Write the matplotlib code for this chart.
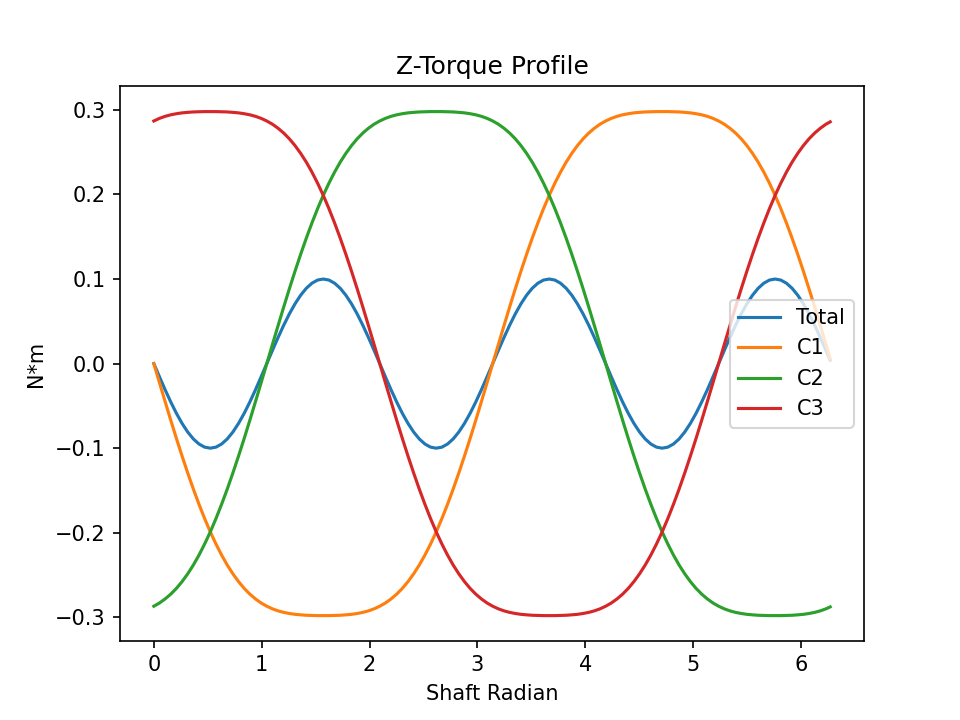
import numpy as np
import matplotlib
matplotlib.use("Agg")
import matplotlib.pyplot as plt

# shaft angle samples, 3 degree steps from 0, last sample just short of 2pi
shaft = np.append(np.linspace(0, 2 * np.pi, 121)[:-1], 6.27)

total = [0.0, -0.0156, -0.0309, -0.0454, -0.0588, -0.0707, -0.0809, -0.0891, -0.0951, -0.0988,
         -0.1, -0.0988, -0.0951, -0.0891, -0.0809, -0.0707, -0.0588, -0.0454, -0.0309, -0.0156,
         0.0, 0.0156, 0.0309, 0.0454, 0.0588, 0.0707, 0.0809, 0.0891, 0.0951, 0.0988,
         0.1, 0.0988, 0.0951, 0.0891, 0.0809, 0.0707, 0.0588, 0.0454, 0.0309, 0.0156,
         0.0, -0.0156, -0.0309, -0.0454, -0.0588, -0.0707, -0.0809, -0.0891, -0.0951, -0.0988,
         -0.1, -0.0988, -0.0951, -0.0891, -0.0809, -0.0707, -0.0588, -0.0454, -0.0309, -0.0156,
         0.0, 0.0156, 0.0309, 0.0454, 0.0588, 0.0707, 0.0809, 0.0891, 0.0951, 0.0988,
         0.1, 0.0988, 0.0951, 0.0891, 0.0809, 0.0707, 0.0588, 0.0454, 0.0309, 0.0156,
         0.0, -0.0156, -0.0309, -0.0454, -0.0588, -0.0707, -0.0809, -0.0891, -0.0951, -0.0988,
         -0.1, -0.0988, -0.0951, -0.0891, -0.0809, -0.0707, -0.0588, -0.0454, -0.0309, -0.0156,
         0.0, 0.0156, 0.0309, 0.0454, 0.0588, 0.0707, 0.0809, 0.0891, 0.0951, 0.0988,
         0.1, 0.0988, 0.0951, 0.0891, 0.0809, 0.0707, 0.0588, 0.0454, 0.0309, 0.0156,
         0.004]

c1 = [0.0, -0.0226, -0.0449, -0.0670, -0.0885, -0.1093, -0.1293, -0.1484, -0.1664, -0.1833,
      -0.1990, -0.2133, -0.2264, -0.2382, -0.2486, -0.2578, -0.2658, -0.2726, -0.2783, -0.2831,
      -0.2869, -0.2900, -0.2924, -0.2942, -0.2955, -0.2965, -0.2971, -0.2976, -0.2978, -0.2980,
      -0.2980, -0.2980, -0.2978, -0.2976, -0.2971, -0.2965, -0.2955, -0.2942, -0.2924, -0.2900,
      -0.2869, -0.2831, -0.2783, -0.2726, -0.2658, -0.2578, -0.2486, -0.2382, -0.2264, -0.2133,
      -0.1990, -0.1833, -0.1664, -0.1484, -0.1293, -0.1093, -0.0885, -0.0670, -0.0449, -0.0226,
      0.0, 0.0226, 0.0449, 0.0670, 0.0885, 0.1093, 0.1293, 0.1484, 0.1664, 0.1833,
      0.1990, 0.2133, 0.2264, 0.2382, 0.2486, 0.2578, 0.2658, 0.2726, 0.2783, 0.2831,
      0.2869, 0.2900, 0.2924, 0.2942, 0.2955, 0.2965, 0.2971, 0.2976, 0.2978, 0.2980,
      0.2980, 0.2980, 0.2978, 0.2976, 0.2971, 0.2965, 0.2955, 0.2942, 0.2924, 0.2900,
      0.2869, 0.2831, 0.2783, 0.2726, 0.2658, 0.2578, 0.2486, 0.2382, 0.2264, 0.2133,
      0.1990, 0.1833, 0.1664, 0.1484, 0.1293, 0.1093, 0.0885, 0.0670, 0.0449, 0.0226,
      0.0056]

c2 = [-0.2869, -0.2831, -0.2783, -0.2726, -0.2658, -0.2578, -0.2486, -0.2382, -0.2264, -0.2133,
      -0.1990, -0.1833, -0.1664, -0.1484, -0.1293, -0.1093, -0.0885, -0.0670, -0.0449, -0.0226,
      0.0, 0.0226, 0.0449, 0.0670, 0.0885, 0.1093, 0.1293, 0.1484, 0.1664, 0.1833,
      0.1990, 0.2133, 0.2264, 0.2382, 0.2486, 0.2578, 0.2658, 0.2726, 0.2783, 0.2831,
      0.2869, 0.2900, 0.2924, 0.2942, 0.2955, 0.2965, 0.2971, 0.2976, 0.2978, 0.2980,
      0.2980, 0.2980, 0.2978, 0.2976, 0.2971, 0.2965, 0.2955, 0.2942, 0.2924, 0.2900,
      0.2869, 0.2831, 0.2783, 0.2726, 0.2658, 0.2578, 0.2486, 0.2382, 0.2264, 0.2133,
      0.1990, 0.1833, 0.1664, 0.1484, 0.1293, 0.1093, 0.0885, 0.0670, 0.0449, 0.0226,
      0.0, -0.0226, -0.0449, -0.0670, -0.0885, -0.1093, -0.1293, -0.1484, -0.1664, -0.1833,
      -0.1990, -0.2133, -0.2264, -0.2382, -0.2486, -0.2578, -0.2658, -0.2726, -0.2783, -0.2831,
      -0.2869, -0.2900, -0.2924, -0.2942, -0.2955, -0.2965, -0.2971, -0.2976, -0.2978, -0.2980,
      -0.2980, -0.2980, -0.2978, -0.2976, -0.2971, -0.2965, -0.2955, -0.2942, -0.2924, -0.2900,
      -0.2877]

c3 = [0.2869, 0.2900, 0.2924, 0.2942, 0.2955, 0.2965, 0.2971, 0.2976, 0.2978, 0.2980,
      0.2980, 0.2980, 0.2978, 0.2976, 0.2971, 0.2965, 0.2955, 0.2942, 0.2924, 0.2900,
      0.2869, 0.2831, 0.2783, 0.2726, 0.2658, 0.2578, 0.2486, 0.2382, 0.2264, 0.2133,
      0.1990, 0.1833, 0.1664, 0.1484, 0.1293, 0.1093, 0.0885, 0.0670, 0.0449, 0.0226,
      0.0, -0.0226, -0.0449, -0.0670, -0.0885, -0.1093, -0.1293, -0.1484, -0.1664, -0.1833,
      -0.1990, -0.2133, -0.2264, -0.2382, -0.2486, -0.2578, -0.2658, -0.2726, -0.2783, -0.2831,
      -0.2869, -0.2900, -0.2924, -0.2942, -0.2955, -0.2965, -0.2971, -0.2976, -0.2978, -0.2980,
      -0.2980, -0.2980, -0.2978, -0.2976, -0.2971, -0.2965, -0.2955, -0.2942, -0.2924, -0.2900,
      -0.2869, -0.2831, -0.2783, -0.2726, -0.2658, -0.2578, -0.2486, -0.2382, -0.2264, -0.2133,
      -0.1990, -0.1833, -0.1664, -0.1484, -0.1293, -0.1093, -0.0885, -0.0670, -0.0449, -0.0226,
      0.0, 0.0226, 0.0449, 0.0670, 0.0885, 0.1093, 0.1293, 0.1484, 0.1664, 0.1833,
      0.1990, 0.2133, 0.2264, 0.2382, 0.2486, 0.2578, 0.2658, 0.2726, 0.2783, 0.2831,
      0.2859]

fig = plt.figure(figsize=(6.4, 4.8), dpi=150)
plt.plot(shaft, total, label="Total")
plt.plot(shaft, c1, label="C1")
plt.plot(shaft, c2, label="C2")
plt.plot(shaft, c3, label="C3")
plt.legend(loc="center right")
plt.xlabel("Shaft Radian")
plt.ylabel("N*m")
plt.title("Z-Torque Profile")
plt.savefig("out.png", dpi=150)
